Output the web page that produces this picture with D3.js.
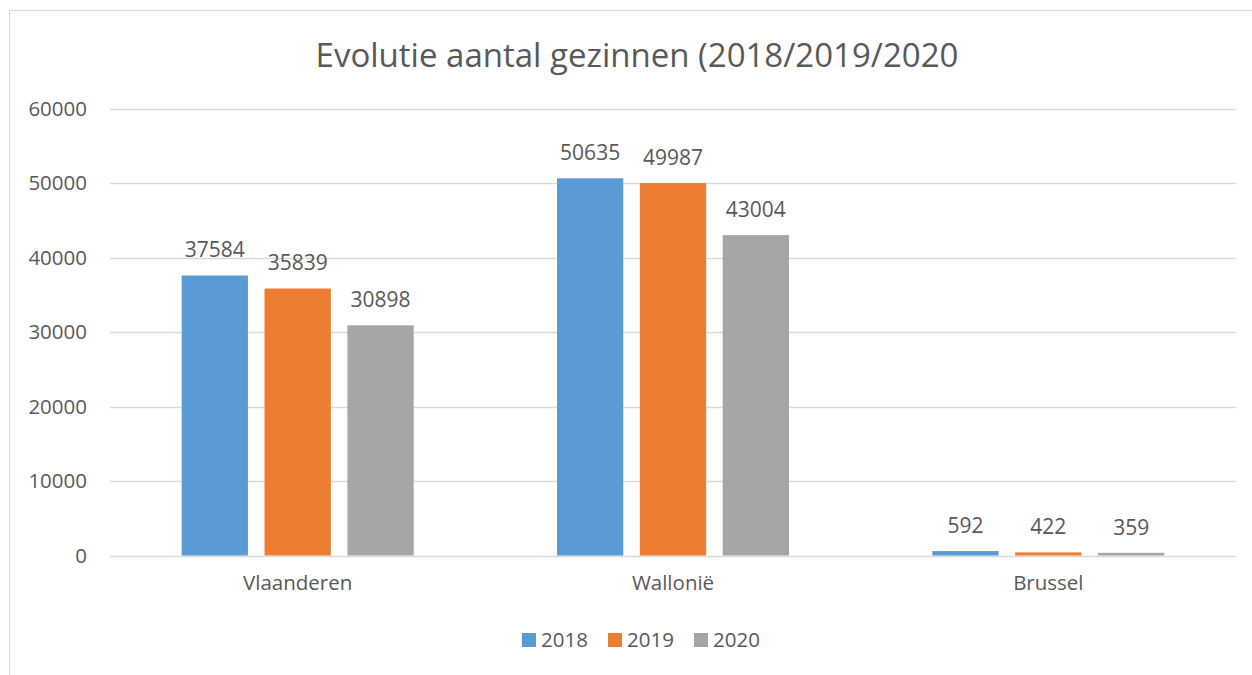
<!DOCTYPE html>
<html>
<head>
<meta charset="utf-8">
<script src="https://cdn.jsdelivr.net/npm/d3@7"></script>
<style>
  body { margin: 0; background: #fff; }
  text { font-family: "Open Sans", sans-serif; fill: #595959; }
</style>
</head>
<body>
<div id="chart"></div>
<script>
// data
var regions = ["Vlaanderen", "Wallonië", "Brussel"];
var years = ["2018", "2019", "2020"];
var values2018 = [37584, 50635, 592];
var values2019 = [35839, 49987, 422];
var values2020 = [30898, 43004, 359];
var yTicks = [0, 10000, 20000, 30000, 40000, 50000, 60000];
var colors = ["#5B9BD5", "#ED7D31", "#A5A5A5"];

var series = [values2018, values2019, values2020];
var rows = [];
regions.forEach(function(r, i) {
  years.forEach(function(y, j) {
    rows.push({ region: r, year: y, value: series[j][i] });
  });
});

var W = 1252, H = 675;
var svg = d3.select("#chart").append("svg")
  .attr("width", W).attr("height", H);

// outer frame
svg.append("rect")
  .attr("x", 9.5).attr("y", 10.5)
  .attr("width", 1300).attr("height", 700)
  .attr("fill", "none").attr("stroke", "#D9D9D9").attr("stroke-width", 1);

// plot box ("top" is taken by window.top, so prefix them)
var plotLeft = 110, plotRight = 1236, plotTop = 108.5, plotBottom = 555.5;

var y = d3.scaleLinear().domain([0, 60000]).range([plotBottom, plotTop]);
var x0 = d3.scaleBand().domain(regions).range([plotLeft, plotRight]).padding(0);
var x1 = d3.scaleBand().domain(years).range([-116, 116]).paddingInner(0.2);

// gridlines
svg.append("g")
  .selectAll("line")
  .data(yTicks)
  .enter().append("line")
  .attr("x1", plotLeft).attr("x2", plotRight)
  .attr("y1", function(d) { return Math.round(y(d)) + 0.5; })
  .attr("y2", function(d) { return Math.round(y(d)) + 0.5; })
  .attr("stroke", "#D9D9D9").attr("stroke-width", 1.3);

// y axis labels (axis line hidden, like the original)
var yAxis = svg.append("g")
  .attr("transform", "translate(" + (plotLeft - 6) + ",0)")
  .call(d3.axisLeft(y).tickValues(yTicks).tickSize(0).tickPadding(17).tickFormat(d3.format("d")));
yAxis.select(".domain").remove();
yAxis.selectAll("text")
  .style("font-family", "'Open Sans', sans-serif")
  .style("font-size", "20.5px")
  .attr("fill", "#595959");

// bars
var groups = svg.append("g").selectAll("g")
  .data(rows)
  .enter();

groups.append("rect")
  .attr("x", function(d) { return x0(d.region) + x0.bandwidth() / 2 + x1(d.year); })
  .attr("y", function(d) { return y(d.value); })
  .attr("width", x1.bandwidth())
  .attr("height", function(d) { return y(0) - y(d.value); })
  .attr("fill", function(d) { return colors[years.indexOf(d.year)]; });

// data labels
groups.append("text")
  .attr("x", function(d) { return x0(d.region) + x0.bandwidth() / 2 + x1(d.year) + x1.bandwidth() / 2; })
  .attr("y", function(d) { return y(d.value) - 18; })
  .attr("text-anchor", "middle")
  .style("font-size", "21px")
  .text(function(d) { return d.value; });

// category labels
var xAxis = svg.append("g")
  .attr("transform", "translate(0," + plotBottom + ")")
  .call(d3.axisBottom(x0).tickSize(0).tickPadding(20));
xAxis.select(".domain").remove();
xAxis.selectAll("text")
  .style("font-family", "'Open Sans', sans-serif")
  .style("font-size", "20.5px")
  .attr("fill", "#595959");

// title
svg.append("text")
  .attr("x", 637).attr("y", 67)
  .attr("text-anchor", "middle")
  .style("font-size", "33px")
  .text("Evolutie aantal gezinnen (2018/2019/2020");

// legend
var legendX = [522, 608, 694];
var legend = svg.append("g").selectAll("g")
  .data(years)
  .enter().append("g")
  .attr("transform", function(d, i) { return "translate(" + legendX[i] + ",633)"; });
legend.append("rect")
  .attr("width", 14).attr("height", 14)
  .attr("fill", function(d, i) { return colors[i]; });
legend.append("text")
  .attr("x", 19).attr("y", 14)
  .style("font-size", "20.5px")
  .text(function(d) { return d; });
</script>
</body>
</html>
